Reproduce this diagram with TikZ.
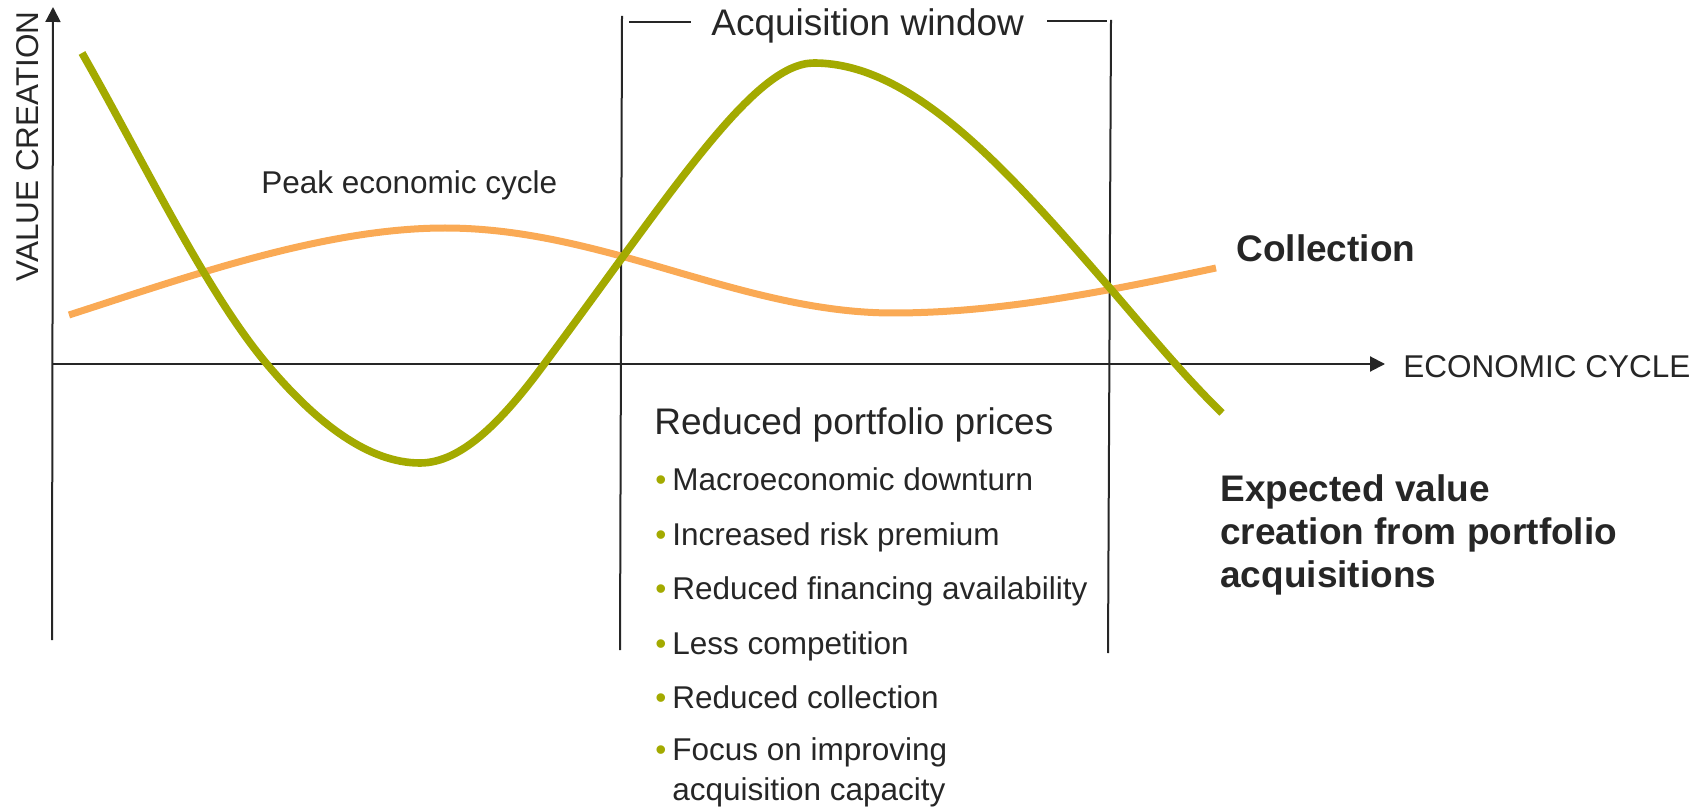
\documentclass[tikz,border=0pt]{standalone}
\usepackage{fontspec}
\setmainfont{Liberation Sans}
\usetikzlibrary{arrows.meta}
\definecolor{olivec}{RGB}{163,170,0}
\definecolor{orangec}{RGB}{250,170,85}
\definecolor{textc}{RGB}{38,38,38}
\tikzset{
  axisline/.style={line width=1pt, draw=textc},
  axisarrow/.style={axisline, -{Triangle[length=7.5pt,width=7.5pt]}},
  winline/.style={line width=1pt, draw=textc},
  greencurve/.style={line width=3.8pt, draw=olivec},
  orangecurve/.style={line width=3.5pt, draw=orangec},
  bigtxt/.style={inner sep=0pt, anchor=base west, text=textc, font=\fontsize{18.5}{22}\selectfont},
  smalltxt/.style={inner sep=0pt, anchor=base west, text=textc, font=\fontsize{15.75}{19}\selectfont},
  boldtxt/.style={inner sep=0pt, anchor=base west, text=textc, font=\fontsize{18.5}{21.5}\selectfont\bfseries, align=left},
}
\newcommand{\blt}{\textcolor{olivec}{\textbullet}\hspace{3pt}}
\begin{document}
\begin{tikzpicture}[x=0.5pt,y=-0.5pt]
\useasboundingbox (0,0) rectangle (1707,807);
% axes
\coordinate (yb) at (52,640);
\coordinate (yt) at (53,7);
\coordinate (xl) at (52,364);
\coordinate (xr) at (1385,364);
\draw[axisarrow] (yb) -- (yt);
\draw[axisarrow] (xl) -- (xr);
% window
\coordinate (wl1) at (622,16);
\coordinate (wl2) at (620,650);
\coordinate (wr1) at (1111,20);
\coordinate (wr2) at (1108,653);
\draw[winline] (wl1) -- (wl2);
\draw[winline] (wr1) -- (wr2);
\coordinate (bl1) at (629,22);
\coordinate (bl2) at (691,22);
\coordinate (br1) at (1047,21);
\coordinate (br2) at (1107,21);
\draw[winline] (bl1) -- (bl2);
\draw[winline] (br1) -- (br2);
% curves
\draw[orangecurve] (69,315) .. controls (190,276) and (325,228) .. (445,228)
  .. controls (505,228) and (562,240) .. (621,256)
  .. controls (712,281) and (800,313) .. (893,313)
  .. controls (1000,313) and (1108,291) .. (1216,268);
\draw[greencurve] (82,53) .. controls (143,160) and (205,290) .. (266,363)
  .. controls (317,424) and (369,463) .. (420,463)
  .. controls (462,463) and (503,420) .. (545,363)
  .. controls (675,188) and (754,63) .. (814,63)
  .. controls (914,63) and (1009,172) .. (1109,287)
  .. controls (1147,331) and (1184,376) .. (1222,413);
% labels
\node[bigtxt] (acq) at (711,36) {Acquisition window};
\node[smalltxt] (peak) at (261,194) {Peak economic cycle};
\node[boldtxt] (coll) at (1236,262) {Collection};
\node[smalltxt] (econ) at (1403,378) {ECONOMIC CYCLE};
\node[smalltxt, rotate=90] (vc) at (38,282) {VALUE CREATION};
\node[boldtxt] (exp) at (1220,587) {Expected value\\creation from portfolio\\acquisitions};
\node[bigtxt] (rpp) at (654,435) {Reduced portfolio prices};
\node[smalltxt] (b1) at (655,490) {\blt Macroeconomic downturn};
\node[smalltxt] (b2) at (655,545) {\blt Increased risk premium};
\node[smalltxt] (b3) at (655,599) {\blt Reduced financing availability};
\node[smalltxt] (b4) at (655,654) {\blt Less competition};
\node[smalltxt] (b5) at (655,708) {\blt Reduced collection};
\node[smalltxt] (b6) at (655,760) {\blt Focus on improving};
\node[smalltxt] (b6b) at (672,800) {acquisition capacity};
\end{tikzpicture}
\end{document}
